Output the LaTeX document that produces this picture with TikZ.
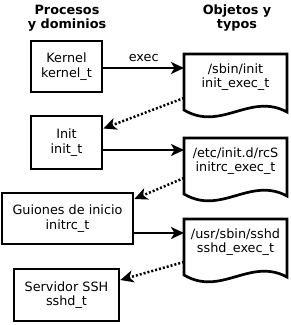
\documentclass[tikz,border=0pt]{standalone}
\usepackage{fontspec}
\setmainfont{DejaVu Sans}
\usetikzlibrary{arrows.meta, positioning, calc}

% outline of a document node: flat top, wavy bottom
\newcommand{\docshape}[1]{%
  \draw[docline] (#1.north west) -- (#1.north east) -- ++(0,58)
    .. controls +(-37,-20) and +(37,22) .. ($(#1.north west)+(0,56)$) -- cycle;}

\begin{document}
\begin{tikzpicture}[
  x=1pt, y=-1pt,
  font=\fontsize{12.8}{14.5}\selectfont,
  line cap=butt, line join=miter,
  proc/.style={draw, line width=2.7pt, align=center, inner sep=0pt},
  doc/.style={anchor=north, minimum width=103, minimum height=46,
    align=center, inner sep=0pt, outer sep=0pt},
  docline/.style={line width=2.7pt},
  head/.style={font=\fontsize{12.8}{14.5}\selectfont\bfseries, align=center},
  flow/.style={line width=2.5pt, -{Stealth[length=13pt, width=12pt, inset=3.5pt]}},
  trans/.style={flow, dash pattern=on 2pt off 2pt},
]
\useasboundingbox (0,0) rectangle (291,325);

% column headings
\node[head] (hp) at (67,18) {Procesos\\y dominios};
\node[head] (ho) at (237,18) {Objetos y\\typos};

% processes and domains
\node[proc, minimum width=71, minimum height=51] (kern) at (66.5,66.5) {Kernel\\kernel\_t};
\node[proc, minimum width=71, minimum height=53] (init) at (66.5,142.5) {Init\\init\_t};
\node[proc, minimum width=131, minimum height=51] (rc) at (67.5,218.5) {Guiones de inicio\\initrc\_t};
\node[proc, minimum width=105, minimum height=52] (sshd) at (66.5,295) {Servidor SSH\\sshd\_t};

% objects and types
\node[doc] (dinit) at (235.5,54) {/sbin/init\\init\_exec\_t};
\node[doc] (drc) at (235.5,138) {/etc/init.d/rcS\\initrc\_exec\_t};
\node[doc] (dsshd) at (235.5,219) {/usr/sbin/sshd\\sshd\_exec\_t};
\docshape{dinit}
\docshape{drc}
\docshape{dsshd}

% exec
\draw[flow] ([yshift=-1.5pt]kern.east) -- node[above=2pt] (lexec) {exec} ([yshift=-1.5pt]kern.east -| dinit.west);
\draw[flow] ([yshift=-7.5pt]init.east) -- ([yshift=-7.5pt]init.east -| drc.west);
\draw[flow] ([yshift=-14.5pt]rc.east) -- ([yshift=-14.5pt]rc.east -| dsshd.west);

% domain transitions
\draw[trans] ([yshift=-21pt]dinit.west) -- ([yshift=14pt]init.east);
\draw[trans] ([yshift=-17pt]drc.west) -- ([yshift=19.5pt]rc.east);
\draw[trans] ([yshift=-20pt]dsshd.west) -- ([yshift=15pt]sshd.east);
\end{tikzpicture}
\end{document}
